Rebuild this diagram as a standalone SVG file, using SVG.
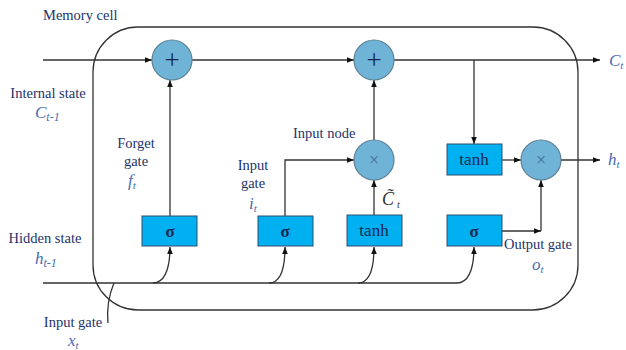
<svg xmlns="http://www.w3.org/2000/svg" width="626" height="350" viewBox="0 0 626 350">
<defs>
<marker id="ah" viewBox="0 0 10 10" refX="10" refY="5" markerWidth="7" markerHeight="7" markerUnits="userSpaceOnUse" orient="auto">
<path d="M0,1 L10,5 L0,9 z" fill="#111"/>
</marker>
<style>
.ln{fill:none;stroke:#333;stroke-width:1.3}
.ar{marker-end:url(#ah)}
.op{fill:#6FB4D6;stroke:#5E7F91;stroke-width:1.2}
.bx{fill:#00B0F0;stroke:#2E4F6E;stroke-width:1}
.lb{font-size:14.5px;fill:#22336A}
.vr{font-style:italic;font-size:17px;fill:#4A6CB3}
.bt{font-size:17px;fill:#1A2850;text-anchor:middle}
.sym{text-anchor:middle}
</style>
</defs>
<rect width="626" height="350" fill="#fff"/>
<g font-family="Liberation Serif, Times New Roman, serif">
<g id="memory-cell">
<rect class="ln" x="93" y="27" width="485" height="283" rx="45" ry="45"/>
<text class="lb" x="43" y="20">Memory cell</text>
</g>
<g id="connectors">
<path class="ln ar" d="M43,60 H152"/>
<path class="ln ar" d="M192,60 H354"/>
<path class="ln ar" d="M394,60 H600"/>
<path class="ln ar" d="M474,60 V144"/>
<path class="ln ar" d="M170,216 V80"/>
<path class="ln ar" d="M285,216 V160 H354"/>
<path class="ln ar" d="M374,215 V180"/>
<path class="ln ar" d="M374,140 V80"/>
<path class="ln ar" d="M502,160 H521"/>
<path class="ln ar" d="M561,160 H600"/>
<path class="ln ar" d="M502,231 H541"/>
<path class="ln ar" d="M541,231 V180"/>
<path class="ln ar" d="M43,283 H457 C467,283 474,272 474,247"/>
<path class="ln ar" d="M153,283 C163,283 170,272 170,247"/>
<path class="ln ar" d="M269,283 C279,283 285,272 285,247"/>
<path class="ln ar" d="M358,283 C368,283 374,272 374,247"/>
<path class="ln" d="M114,283 Q106,302 108,323"/>
</g>
<g id="forget-add">
<circle class="op" cx="172" cy="60" r="20"/>
<text class="sym" x="172" y="69" font-size="27" fill="#1A2850">+</text>
</g>
<g id="cell-add">
<circle class="op" cx="374" cy="60" r="20"/>
<text class="sym" x="374" y="69" font-size="27" fill="#1A2850">+</text>
</g>
<g id="input-node">
<circle class="op" cx="374" cy="160" r="20"/>
<text class="sym" x="374" y="166" font-size="18" fill="#4A6A9A">×</text>
<text class="lb" x="293" y="138">Input node</text>
</g>
<g id="output-mult">
<circle class="op" cx="541" cy="160" r="20"/>
<text class="sym" x="541" y="166" font-size="18" fill="#4A6A9A">×</text>
</g>
<g id="forget-sigma">
<rect class="bx" x="142" y="216" width="55" height="30"/>
<text class="bt" x="170" y="237" font-weight="bold">σ</text>
</g>
<g id="input-sigma">
<rect class="bx" x="258" y="216" width="55" height="30"/>
<text class="bt" x="285" y="237" font-weight="bold">σ</text>
</g>
<g id="candidate-tanh">
<rect class="bx" x="347" y="215" width="55" height="31"/>
<text class="bt" x="374" y="236">tanh</text>
</g>
<g id="output-sigma">
<rect class="bx" x="447" y="215" width="55" height="31"/>
<text class="bt" x="474" y="237" font-weight="bold">σ</text>
</g>
<g id="output-tanh">
<rect class="bx" x="447" y="144" width="55" height="31"/>
<text class="bt" x="474" y="165">tanh</text>
</g>
<g id="labels">
<text class="lb" x="48" y="98" text-anchor="middle">Internal state</text>
<text class="vr" x="35" y="118">C<tspan font-size="12" dy="3">t-1</tspan></text>
<text class="lb" x="136" y="148" text-anchor="middle">Forget</text>
<text class="lb" x="136" y="166" text-anchor="middle">gate</text>
<text class="vr" x="128" y="186">f<tspan font-size="11" dy="3">t</tspan></text>
<text class="lb" x="253" y="170" text-anchor="middle">Input</text>
<text class="lb" x="253" y="188" text-anchor="middle">gate</text>
<text class="vr" x="249" y="209">i<tspan font-size="11" dy="3">t</tspan></text>
<text x="382" y="205" font-style="italic" font-size="18" fill="#333">C̃<tspan font-size="10" dx="3" dy="3">t</tspan></text>
<text class="lb" x="45" y="243" text-anchor="middle">Hidden state</text>
<text class="vr" x="35" y="264">h<tspan font-size="12" dy="3">t-1</tspan></text>
<text class="lb" x="73" y="327" text-anchor="middle">Input gate</text>
<text class="vr" x="68" y="346">x<tspan font-size="11" dy="3">t</tspan></text>
<text class="lb" x="538" y="249" text-anchor="middle">Output gate</text>
<text class="vr" x="532" y="270">o<tspan font-size="11" dy="3">t</tspan></text>
<text class="vr" x="609" y="66">C<tspan font-size="11" dy="3">t</tspan></text>
<text class="vr" x="608" y="165">h<tspan font-size="11" dy="3">t</tspan></text>
</g>
</g>
</svg>
